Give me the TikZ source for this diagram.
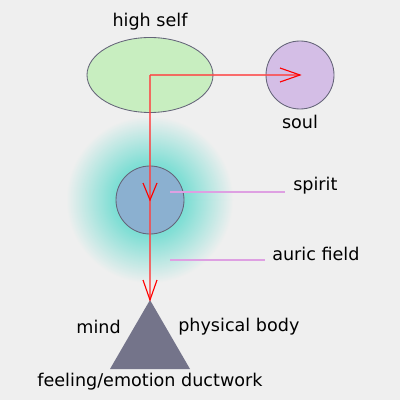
\documentclass[tikz,border=0pt]{standalone}
\usepackage{fontspec}
\setmainfont{DejaVu Sans}
\usetikzlibrary{shapes.geometric}
\definecolor{bgC}{RGB}{239,239,239}
\definecolor{auraC}{RGB}{125,222,212}
\definecolor{hsFill}{RGB}{200,238,192}
\definecolor{soulFill}{RGB}{212,190,230}
\definecolor{spFill}{RGB}{139,176,208}
\definecolor{triFill}{RGB}{116,116,138}
\definecolor{edgeC}{RGB}{100,100,120}
\definecolor{pinkC}{RGB}{222,160,226}
\tikzset{
  lbl/.style={font=\fontsize{12.5pt}{14pt}\selectfont, text=black, inner sep=0pt},
  blob/.style={draw=edgeC, line width=0.6pt},
  redline/.style={draw=red!75!white, opacity=0.75, line width=1.4pt},
  barb/.style={draw=red, line width=0.8pt},
  pinkline/.style={draw=pinkC, line width=0.8pt}
}
\begin{document}
\begin{tikzpicture}[x=0.025cm,y=-0.025cm]
\fill[bgC] (0,0) rectangle (400,400);
\useasboundingbox (0,0) rectangle (400,400);
% auric field: concentric fills fading outwards
\coordinate (auracen) at (150,200);
\foreach \r in {84,83,...,34}{
  \pgfmathsetmacro{\pc}{min(100,max(0,100*(84-\r)/48))}
  \fill[auraC!\pc!bgC] (auracen) circle (\r);
}
% shapes
\node[blob, ellipse, fill=hsFill, minimum width=126*0.025cm, minimum height=75*0.025cm, inner sep=0pt] (hs) at (150,75) {};
\node[blob, circle, fill=soulFill, minimum size=68*0.025cm, inner sep=0pt] (soul) at (300,75) {};
\node[blob, circle, fill=spFill, minimum size=68*0.025cm, inner sep=0pt] (spirit) at (auracen) {};
\fill[triFill] (150,300) coordinate (apex) -- (190,369) coordinate (br) -- (110,369) coordinate (bl) -- cycle;
% labels
\node[lbl] (thigh) at (150,22) {high self};
\node[lbl] (tsoul) at (300,122) {soul};
\node[lbl, anchor=west] (tspirit) at (293,186) {spirit};
\node[lbl, anchor=west] (tauric) at (272,254) {auric field};
\node[lbl, anchor=east] (tmind) at (121,327) {mind};
\node[lbl, anchor=west] (tbody) at (178,327) {physical body};
\node[lbl] (tfeel) at (150,382) {feeling/emotion ductwork};
% pink leader lines
\coordinate (sp1) at (170,192);
\coordinate (sp2) at (285,192);
\coordinate (au1) at (170,260);
\coordinate (au2) at (265,260);
\draw[pinkline] (sp1) -- (sp2);
\draw[pinkline] (au1) -- (au2);
% red connectors
\draw[redline] (hs.center) -- (soul.center);
\draw[redline] (hs.center) -- (apex);
% arrow barbs
\draw[barb] ([shift={(-20,-7)}]soul.center) -- (soul.center) -- ([shift={(-20,7)}]soul.center);
\draw[barb] ([shift={(-7,-17)}]spirit.center) -- (spirit.center) -- ([shift={(7,-17)}]spirit.center);
\draw[barb] ([shift={(-7,-20)}]apex) -- (apex) -- ([shift={(7,-20)}]apex);
\end{tikzpicture}
\end{document}
